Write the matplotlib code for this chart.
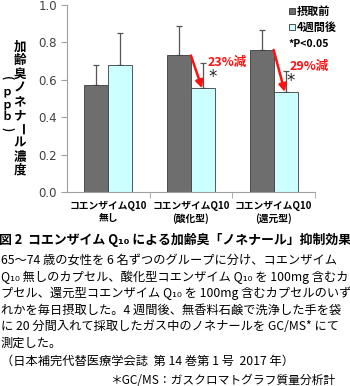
import numpy as np
import matplotlib
matplotlib.use('Agg')
import matplotlib.pyplot as plt
from matplotlib.patches import Rectangle

plt.rcParams['font.family'] = ['Noto Sans CJK JP', 'DejaVu Sans']

# data
groups = ['コエンザイムQ10\n無し', 'コエンザイムQ10\n(酸化型)', 'コエンザイムQ10\n(還元型)']
before = [0.57, 0.73, 0.76]
before_err = [0.11, 0.155, 0.105]
after = [0.68, 0.555, 0.535]
after_err = [0.17, 0.135, 0.11]
reduction = ['', '23%減', '29%減']
y_ticks = [0.0, 0.2, 0.4, 0.6, 0.8, 1.0]

dark = '#6e6e6e'
light = '#ccffff'
edge = '#3c3c3c'

fig = plt.figure(figsize=(3.5, 3.86), dpi=100)
ax = fig.add_axes([0.191, 0.5026, 0.709, 0.4845])

x = np.arange(len(groups))
w = 0.29
ax.bar(x - w / 2, before, w, color=dark, edgecolor=edge, linewidth=0.6, zorder=2)
ax.bar(x + w / 2, after, w, color=light, edgecolor=edge, linewidth=0.6, zorder=2)
ax.errorbar(x - w / 2, before, yerr=[np.zeros(3), before_err], fmt='none',
            ecolor='#555555', elinewidth=0.9, capsize=2.5, capthick=0.9, zorder=1)
ax.errorbar(x + w / 2, after, yerr=[np.zeros(3), after_err], fmt='none',
            ecolor='#555555', elinewidth=0.9, capsize=2.5, capthick=0.9, zorder=1)

# red arrows + reduction labels
for i in [1, 2]:
    ax.annotate('', xy=(i + w / 2 - 0.01, after[i]), xytext=(i, before[i]),
                arrowprops=dict(arrowstyle='-|>', color='#ff1010', lw=1.8,
                                mutation_scale=11, shrinkA=0, shrinkB=0), zorder=4)
    ax.text(i + 0.2 + (i - 1) * -0.013, before[i] - 0.04 - (i - 1) * 0.05, reduction[i],
            color='#ff1010', fontsize=9, fontweight='bold', va='center', ha='left')
    ax.text(i + 0.26 - (i - 1) * 0.05, after[i] + 0.06, '*', color='#222222',
            fontsize=12, va='center', ha='center', family='DejaVu Sans')

ax.set_xlim(-0.5, 2.5)
ax.set_ylim(0, 1.0)
ax.set_yticks(y_ticks)
ax.set_yticklabels(['%.1f' % v for v in y_ticks], family='DejaVu Sans',
                   fontsize=8.5, color='#404040')
ax.set_xticks(x)
ax.set_xticklabels(groups, fontsize=7, fontweight='bold', linespacing=1.3)
ax.tick_params(axis='x', length=0, pad=6)
ax.set_xticks([0.5, 1.5, 2.5], minor=True)
ax.tick_params(axis='x', which='minor', length=4, color='#a0a0a0')
ax.tick_params(axis='y', length=4, color='#a0a0a0', pad=3)
for s in ['top', 'right']:
    ax.spines[s].set_visible(False)
for s in ['left', 'bottom']:
    ax.spines[s].set_color('#a0a0a0')
    ax.spines[s].set_linewidth(0.8)

# vertical y label
H = 386.0
lab1 = '加齢臭ノネナール濃度'
for k, ch in enumerate(lab1):
    rot = -90 if ch == 'ー' else 0
    fig.text(20 / 350, 1 - (47 + 13.7 * k) / H, ch, fontsize=9, fontweight='bold',
             ha='center', va='center', rotation=rot)
lab2 = '(ｐｐｂ)'
for k, ch in enumerate(lab2):
    rot = -90 if ch in '()' else 0
    fig.text(7 / 350, 1 - (78 + 12.8 * k) / H, ch, fontsize=8, fontweight='bold',
             ha='center', va='center', rotation=rot)

# legend
leg_y = [11, 27, 44]
fig.add_artist(Rectangle((289 / 350, 1 - 14 / H), 6 / 350, 6 / H, transform=fig.transFigure,
                         facecolor=dark, edgecolor='#333333', linewidth=0.6))
fig.add_artist(Rectangle((289 / 350, 1 - 30 / H), 6 / 350, 6 / H, transform=fig.transFigure,
                         facecolor=light, edgecolor='#333333', linewidth=0.6))
fig.text(297 / 350, 1 - leg_y[0] / H, '摂取前', fontsize=8, fontweight='bold', va='center')
fig.text(297 / 350, 1 - leg_y[1] / H, '4週間後', fontsize=8, fontweight='bold', va='center')
fig.text(288 / 350, 1 - leg_y[2] / H, '*P<0.05', fontsize=7.5, fontweight='bold', va='center')

# caption
fig.text(175 / 350, 1 - 240 / H, '図 2  コエンザイム Q₁₀ による加齢臭「ノネナール」抑制効果',
         fontsize=9.3, fontweight='bold', ha='center', va='center')
body = [
    '65～74 歳の女性を 6 名ずつのグループに分け、コエンザイム',
    'Q₁₀ 無しのカプセル、酸化型コエンザイム Q₁₀ を 100mg 含むカ',
    'プセル、還元型コエンザイム Q₁₀ を 100mg 含むカプセルのいず',
    'れかを毎日摂取した。4 週間後、無香料石鹸で洗浄した手を袋',
    'に 20 分間入れて採取したガス中のノネナールを GC/MS* にて',
    '測定した。',
    '（日本補完代替医療学会誌  第 14 巻第 1 号  2017 年）',
]
body_y = [260, 277, 293, 310, 327, 343, 361]
for t, yy in zip(body, body_y):
    fig.text(1 / 350, 1 - yy / H, t, fontsize=8.8, ha='left', va='center')
fig.text(110 / 350, 1 - 380 / H, '＊GC/MS：ガスクロマトグラフ質量分析計',
         fontsize=8.5, ha='left', va='center')

fig.savefig('out.png', dpi=100)
